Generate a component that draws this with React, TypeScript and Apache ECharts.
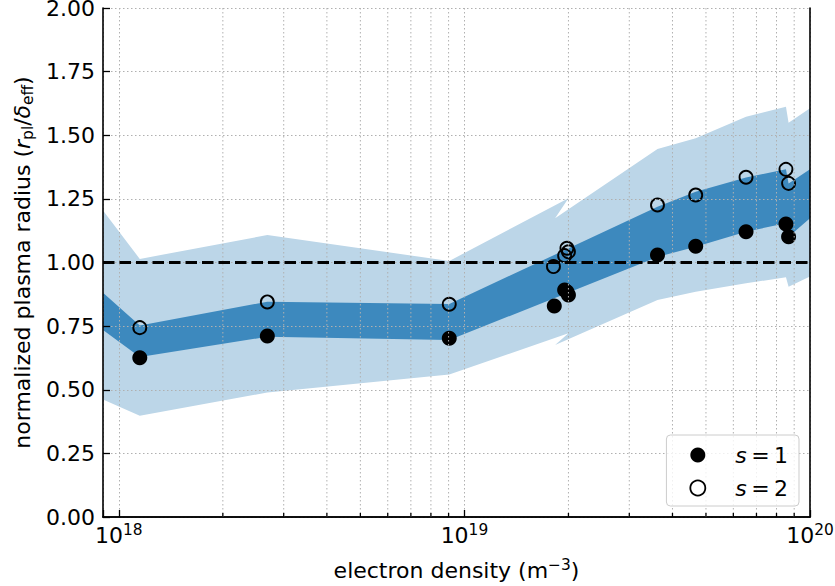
import React, { useEffect, useRef } from 'react';
import * as echarts from 'echarts';

const FONT = '"DejaVu Sans", sans-serif';
const FS = 22;
const FS_SMALL = 15.4;

// axis ranges
const X_MIN = 9e17;
const X_MAX = 1e20;
const Y_MIN = 0;
const Y_MAX = 2;
const Y_STEP = 0.25;

// minor (log) tick positions on the x axis
const minorTicks = [
  2e18, 3e18, 4e18, 5e18, 6e18, 7e18, 8e18, 9e18,
  2e19, 3e19, 4e19, 5e19, 6e19, 7e19, 8e19, 9e19,
];

// s = 1 (filled markers)
const densityS1 = [1.15e18, 2.69e18, 9.04e18, 1.82e19, 1.95e19, 1.98e19, 2.0e19, 3.62e19, 4.67e19, 6.53e19, 8.52e19, 8.67e19];
const radiusS1 = [0.626, 0.711, 0.702, 0.829, 0.892, 0.885, 0.872, 1.029, 1.064, 1.121, 1.151, 1.101];

// s = 2 (open markers)
const densityS2 = [1.15e18, 2.69e18, 9.04e18, 1.81e19, 1.95e19, 1.98e19, 2.0e19, 3.62e19, 4.67e19, 6.53e19, 8.52e19, 8.67e19];
const radiusS2 = [0.744, 0.845, 0.836, 0.984, 1.027, 1.056, 1.042, 1.226, 1.265, 1.335, 1.366, 1.311];

// outer (light) band
const lightX = [9e17, 1.15e18, 2.69e18, 9.04e18, 2.0e19, 1.83e19, 3.62e19, 4.67e19, 6.53e19, 8.52e19, 8.67e19, 1e20];
const lightUpper = [1.204, 1.014, 1.108, 1.006, 1.252, 1.174, 1.446, 1.488, 1.573, 1.612, 1.549, 1.606];
const lightLower = [0.462, 0.398, 0.489, 0.560, 0.722, 0.676, 0.853, 0.885, 0.918, 0.942, 0.905, 0.945];

// inner (dark) band
const darkX = [9e17, 1.15e18, 2.69e18, 9.04e18, 3.62e19, 4.67e19, 6.53e19, 8.52e19, 8.67e19, 1e20];
const darkUpper = [0.881, 0.752, 0.846, 0.837, 1.219, 1.278, 1.334, 1.366, 1.31, 1.366];
const darkLower = [0.735, 0.629, 0.708, 0.695, 1.022, 1.062, 1.121, 1.154, 1.101, 1.174];

// reference level
const refLevel = 1.0;

const LIGHT = '#bcd6e8';
const DARK = '#3d89be';
const GRID = '#b0b0b0';

function bandRenderer(xs: number[], up: number[], lo: number[], color: string) {
  return (params: any, api: any) => {
    if (params.dataIndex !== 0) return { type: 'group', children: [] };
    const pts: number[][] = [];
    for (let i = 0; i < xs.length; i++) pts.push(api.coord([xs[i], up[i]]));
    for (let i = xs.length - 1; i >= 0; i--) pts.push(api.coord([xs[i], lo[i]]));
    return {
      type: 'polygon',
      shape: { points: pts },
      style: { fill: color, stroke: null, lineWidth: 0 },
      silent: true,
    };
  };
}

function minorRenderer(params: any, api: any) {
  const x = api.value(0);
  const top = api.coord([x, Y_MAX]);
  const bot = api.coord([x, Y_MIN]);
  return {
    type: 'group',
    children: [
      {
        type: 'line',
        shape: { x1: bot[0], y1: top[1], x2: bot[0], y2: bot[1] },
        style: { stroke: GRID, lineWidth: 1, lineDash: [1.5, 2.5] },
      },
      {
        type: 'line',
        shape: { x1: bot[0], y1: bot[1], x2: bot[0], y2: bot[1] - 4 },
        style: { stroke: '#000', lineWidth: 1.3 },
      },
    ],
  };
}

function isPow10(v: number) {
  const e = Math.round(Math.log10(v));
  return Math.abs(v - Math.pow(10, e)) / v < 1e-6;
}

export default function App() {
  const ref = useRef<HTMLDivElement>(null);

  useEffect(() => {
    if (!ref.current) return;
    const chart = echarts.init(ref.current, null, { renderer: 'svg' });

    const spine = { show: true, lineStyle: { color: '#000', width: 1.6 } };
    const dotted = { show: true, lineStyle: { color: GRID, width: 1, type: [1.5, 2.5] as any } };
    const supStyle = { fontSize: FS_SMALL, fontFamily: FONT, color: '#000', verticalAlign: 'top', lineHeight: 11 };

    const option: any = {
      animation: false,
      backgroundColor: '#fff',
      textStyle: { fontFamily: FONT },
      grid: { left: 103, top: 8, width: 707, height: 509, containLabel: false, outerBoundsMode: 'none' },
      legend: {
        orient: 'vertical',
        right: 36,
        bottom: 80,
        z: 20,
        padding: [9, 11, 7, 23],
        itemWidth: 15,
        itemHeight: 15,
        itemGap: 11,
        backgroundColor: 'rgba(255,255,255,0.8)',
        borderColor: '#cccccc',
        borderWidth: 1,
        borderRadius: 4,
        selectedMode: false,
        data: [
          { name: 's1', icon: 'circle', itemStyle: { color: '#000', borderWidth: 0 } },
          { name: 's2', icon: 'circle', itemStyle: { color: 'rgba(0,0,0,0)', borderColor: '#000', borderWidth: 1.8 } },
        ],
        formatter: (name: string) =>
          name === 's1' ? '{p| }{i|s}{t|\u2009=\u20091}' : '{p| }{i|s}{t|\u2009=\u20092}',
        textStyle: {
          fontFamily: FONT,
          fontSize: FS,
          color: '#000',
          lineHeight: 22,
          rich: {
            p: { width: 25, fontSize: FS, lineHeight: 22 },
            i: { fontStyle: 'italic', fontSize: FS, fontFamily: FONT, color: '#000', lineHeight: 22 },
            t: { fontSize: FS, fontFamily: FONT, color: '#000', lineHeight: 22 },
          },
        },
      },
      xAxis: [
        {
          type: 'log',
          logBase: 10,
          min: X_MIN,
          max: X_MAX,
          z: 10,
          name: 'electron density (m{sup|−3})',
          nameLocation: 'middle',
          nameGap: 40,
          nameTextStyle: {
            fontFamily: FONT,
            fontSize: FS,
            color: '#000',
            lineHeight: 26,
            rich: { sup: supStyle },
          },
          axisLine: spine,
          axisTick: { show: true, inside: true, length: 7, lineStyle: { color: '#000', width: 1.3 } },
          minorTick: { show: false },
          splitLine: dotted,
          axisLabel: {
            margin: 5,
            fontFamily: FONT,
            fontSize: FS,
            color: '#000',
            lineHeight: 26,
            formatter: (v: number) => {
              if (!isPow10(v)) return '';
              const e = Math.round(Math.log10(v));
              return '10{sup|' + e + '}';
            },
            rich: { sup: supStyle },
          },
        },
        {
          type: 'log',
          logBase: 10,
          min: X_MIN,
          max: X_MAX,
          position: 'top',
          z: 10,
          axisLine: spine,
          axisTick: { show: false },
          axisLabel: { show: false },
          splitLine: { show: false },
        },
      ],
      yAxis: [
        {
          type: 'value',
          min: Y_MIN,
          max: Y_MAX,
          interval: Y_STEP,
          z: 10,
          name: 'normalized plasma radius ({i|r}{sub|pl}/{i|δ}{sub|eff})',
          nameLocation: 'middle',
          nameRotate: 90,
          nameGap: 65,
          nameTextStyle: {
            fontFamily: FONT,
            fontSize: FS,
            color: '#000',
            lineHeight: 26,
            rich: {
              i: { fontStyle: 'italic', fontSize: FS, fontFamily: FONT, color: '#000', lineHeight: 26 },
              sub: { fontSize: FS_SMALL, fontFamily: FONT, color: '#000', verticalAlign: 'bottom', lineHeight: 12.5 },
            },
          },
          axisLine: spine,
          axisTick: { show: true, inside: true, length: 7, lineStyle: { color: '#000', width: 1.3 } },
          splitLine: dotted,
          axisLabel: {
            margin: 8,
            fontFamily: FONT,
            fontSize: FS,
            lineHeight: 12,
            padding: [4, 0, 0, 0],
            color: '#000',
            formatter: (v: number) => v.toFixed(2),
          },
        },
        {
          type: 'value',
          min: Y_MIN,
          max: Y_MAX,
          interval: Y_STEP,
          position: 'right',
          z: 10,
          axisLine: spine,
          axisTick: { show: false },
          axisLabel: { show: false },
          splitLine: { show: false },
        },
      ],
      series: [
        {
          type: 'custom',
          name: 'outer',
          z: 1,
          silent: true,
          renderItem: bandRenderer(lightX, lightUpper, lightLower, LIGHT),
          encode: { x: 0, y: [1, 2] },
          data: lightX.map((x, i) => [x, lightUpper[i], lightLower[i]]),
        },
        {
          type: 'custom',
          name: 'inner',
          z: 2,
          silent: true,
          renderItem: bandRenderer(darkX, darkUpper, darkLower, DARK),
          encode: { x: 0, y: [1, 2] },
          data: darkX.map((x, i) => [x, darkUpper[i], darkLower[i]]),
        },
        {
          type: 'scatter',
          name: 's1',
          z: 5,
          symbol: 'circle',
          symbolSize: 15,
          itemStyle: { color: '#000', opacity: 1 },
          data: densityS1.map((x, i) => [x, radiusS1[i]]),
        },
        {
          type: 'scatter',
          name: 's2',
          z: 6,
          symbol: 'circle',
          symbolSize: 13,
          itemStyle: { color: 'rgba(0,0,0,0)', borderColor: '#000', borderWidth: 1.9, opacity: 1 },
          data: densityS2.map((x, i) => [x, radiusS2[i]]),
        },
        {
          type: 'custom',
          name: 'minor',
          z: 12,
          silent: true,
          renderItem: minorRenderer,
          encode: { x: 0, y: 1 },
          data: minorTicks.map((v) => [v, Y_MIN]),
        },
        {
          type: 'line',
          name: 'ref',
          z: 14,
          silent: true,
          symbol: 'none',
          lineStyle: { color: '#000', width: 3, type: [11.5, 5] },
          data: [[X_MIN, refLevel], [X_MAX, refLevel]],
        },
      ],
    };

    chart.setOption(option);
    return () => chart.dispose();
  }, []);

  return (
    <div
      ref={ref}
      style={{ position: 'fixed', left: 0, top: 0, width: 835, height: 586 }}
    />
  );
}
